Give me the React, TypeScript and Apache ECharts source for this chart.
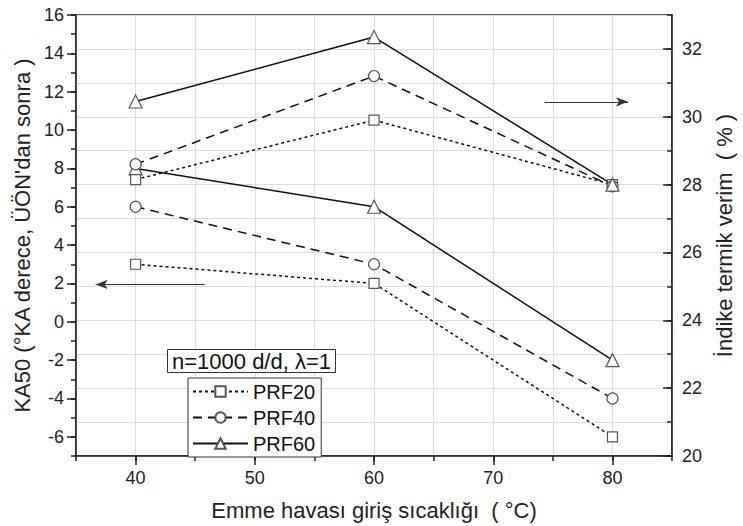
import React, { useEffect, useRef } from "react";
import * as echarts from "echarts";

const xValues = [40, 60, 80];
const seriesNames = ["PRF20", "PRF40", "PRF60"];
// KA50 (left axis)
const ka50PRF20 = [3, 2, -6];
const ka50PRF40 = [6, 3, -4];
const ka50PRF60 = [8, 6, -2];
// İndike termik verim (right axis)
const verimPRF20 = [28.15, 29.9, 28.0];
const verimPRF40 = [28.6, 31.2, 27.95];
const verimPRF60 = [30.45, 32.35, 28.0];

const xLabelValues = [40, 50, 60, 70, 80];
const leftLabelValues = [-6, -4, -2, 0, 2, 4, 6, 8, 10, 12, 14, 16];
const rightLabelValues = [20, 22, 24, 26, 28, 30, 32];

// arrow annotations (data coords)
const leftArrow = { from: [45.8, 1.95], to: [36.65, 1.95] };
const rightArrow = { from: [74.3, 30.44], to: [81.3, 30.44] };

const FONT = "'Liberation Sans', Arial, sans-serif";
const INK = "#111";

const styles: Record<string, any> = {
  PRF20: { type: [3, 3], symbol: "rect", size: 10 },
  PRF40: { type: [9, 6], symbol: "circle", size: 11 },
  PRF60: { type: "solid", symbol: "triangle", size: 13 },
};

function mkSeries(name: string, vals: number[], yAxisIndex: number, markLine?: any) {
  const s = styles[name];
  const o: any = {
    type: "line",
    name,
    xAxisIndex: 0,
    yAxisIndex,
    data: xValues.map((x, i) => [x, vals[i]]),
    symbol: s.symbol,
    symbolSize: s.size,
    showSymbol: true,
    lineStyle: { color: INK, width: 1.5, type: s.type },
    itemStyle: { color: "#fff", borderColor: "#555", borderWidth: 1.2 },
    z: 3,
  };
  if (markLine) o.markLine = markLine;
  return o;
}

function arrowLine(a: { from: number[]; to: number[] }) {
  return {
    silent: true,
    symbol: ["none", "arrow"],
    symbolSize: [7, 12],
    label: { show: false },
    lineStyle: { color: "#333", width: 1, type: "solid" },
    data: [[{ coord: a.from }, { coord: a.to }]],
  };
}

export default function App() {
  const ref = useRef<HTMLDivElement>(null);
  useEffect(() => {
    if (!ref.current) return;
    const chart = echarts.init(ref.current, null, { renderer: "svg" });
    const tickLine = { color: "#222", width: 1.5 };
    const labelStyle = { fontSize: 18, color: "#222", fontFamily: FONT };
    const nameStyle = { fontSize: 22, color: "#222", fontFamily: FONT };
    chart.setOption({
      animation: false,
      backgroundColor: "#fff",
      textStyle: { fontFamily: FONT },
      grid: {
        left: 76,
        top: 15,
        right: 60,
        bottom: 61,
        show: true,
        borderColor: "#222",
        borderWidth: 1.5,
        backgroundColor: "transparent",
      },
      title: {
        text: "n=1000 d/d, λ=1",
        left: 167,
        top: 349,
        padding: [1, 5, 0, 5],
        borderWidth: 1,
        borderColor: "#333",
        backgroundColor: "#fff",
        textStyle: { fontSize: 22, fontWeight: "normal", color: INK, fontFamily: FONT, lineHeight: 23 },
      },
      legend: {
        data: seriesNames,
        orient: "vertical",
        left: 188,
        top: 378,
        padding: [3, 6, 3, 4],
        itemGap: 5,
        itemWidth: 55,
        itemHeight: 13,
        borderColor: "#333",
        borderWidth: 1,
        backgroundColor: "#fff",
        textStyle: { fontSize: 20, color: INK, fontFamily: FONT, lineHeight: 21 },
      },
      xAxis: [
        {
          type: "value",
          min: 35,
          max: 85,
          interval: 5,
          position: "bottom",
          name: "Emme havası giriş sıcaklığı  ( °C)",
          nameLocation: "middle",
          nameGap: 43,
          nameTextStyle: nameStyle,
          axisLine: { show: true, onZero: false, lineStyle: tickLine },
          axisTick: { show: true, length: 5, lineStyle: tickLine },
          axisLabel: { customValues: xLabelValues, margin: 13, ...labelStyle },
          splitLine: { show: true, lineStyle: { color: "#dcdcdc", width: 1 } },
        },
        {
          type: "value",
          min: 35,
          max: 85,
          position: "bottom",
          axisLine: { show: false, onZero: false },
          axisTick: { show: true, customValues: xLabelValues, length: 9, lineStyle: tickLine },
          axisLabel: { show: false },
          splitLine: { show: false },
        },
      ],
      yAxis: [
        {
          type: "value",
          min: -7,
          max: 16,
          interval: 1,
          position: "left",
          name: "KA50 (°KA derece, ÜÖN'dan sonra )",
          nameLocation: "middle",
          nameRotate: 90,
          nameGap: 42,
          nameTextStyle: nameStyle,
          axisLine: { show: true, onZero: false, lineStyle: tickLine },
          axisTick: { show: true, length: 5, lineStyle: tickLine },
          axisLabel: { customValues: leftLabelValues, margin: 12, ...labelStyle },
          splitLine: { show: false },
        },
        {
          type: "value",
          min: -7,
          max: 16,
          position: "left",
          axisLine: { show: false, onZero: false },
          axisTick: { show: true, customValues: leftLabelValues, length: 9, lineStyle: tickLine },
          axisLabel: { show: false },
          splitLine: { show: false },
        },
        {
          type: "value",
          min: 20,
          max: 33,
          interval: 1,
          position: "right",
          name: "İndike termik verim  ( % )",
          nameLocation: "middle",
          nameRotate: 90,
          nameGap: 36,
          nameTextStyle: nameStyle,
          axisLine: { show: true, onZero: false, lineStyle: tickLine },
          axisTick: { show: true, inside: true, length: 5, lineStyle: tickLine },
          axisLabel: { customValues: rightLabelValues, margin: 10, ...labelStyle },
          splitLine: { show: true, lineStyle: { color: "#dcdcdc", width: 1 } },
        },
        {
          type: "value",
          min: 20,
          max: 33,
          position: "right",
          axisLine: { show: false, onZero: false },
          axisTick: { show: true, inside: true, customValues: rightLabelValues, length: 9, lineStyle: tickLine },
          axisLabel: { show: false },
          splitLine: { show: false },
        },
      ],
      series: [
        mkSeries("PRF20", ka50PRF20, 0, arrowLine(leftArrow)),
        mkSeries("PRF40", ka50PRF40, 0),
        mkSeries("PRF60", ka50PRF60, 0),
        mkSeries("PRF20", verimPRF20, 2, arrowLine(rightArrow)),
        mkSeries("PRF40", verimPRF40, 2),
        mkSeries("PRF60", verimPRF60, 2),
      ],
    });
    return () => chart.dispose();
  }, []);
  return (
    <div
      ref={ref}
      style={{ position: "fixed", left: 0, top: 0, width: 743, height: 526, background: "#fff" }}
    />
  );
}
